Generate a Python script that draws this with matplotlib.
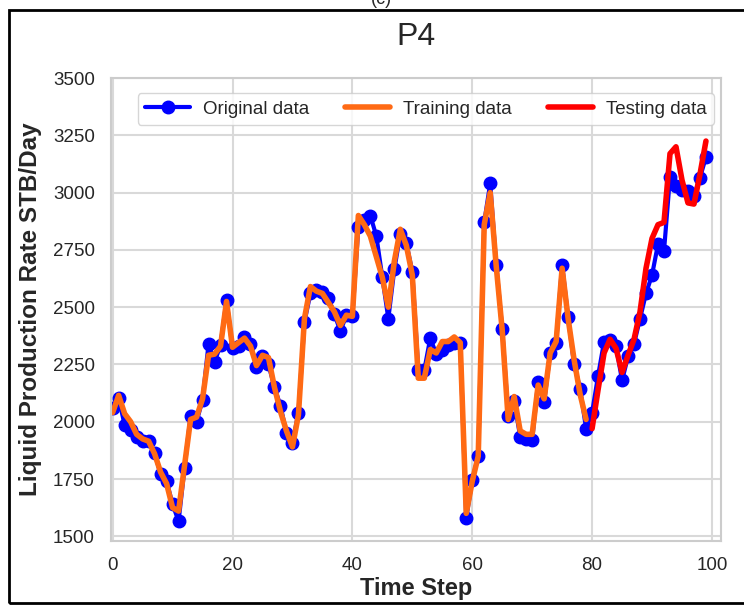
import matplotlib
matplotlib.use("Agg")
import matplotlib.pyplot as plt
import seaborn as sns
from matplotlib.patches import Rectangle

# production rate of well P4, one value per time step
original = [2060, 2105, 1985, 1965, 1935, 1915, 1915, 1865, 1770, 1740,
            1640, 1565, 1800, 2025, 2000, 2095, 2340, 2260, 2335, 2530,
            2320, 2330, 2370, 2340, 2240, 2285, 2250, 2150, 2070, 1950,
            1905, 2040, 2435, 2560, 2575, 2565, 2540, 2470, 2395, 2465,
            2460, 2850, 2880, 2900, 2810, 2630, 2450, 2665, 2820, 2780,
            2655, 2225, 2225, 2365, 2295, 2315, 2335, 2345, 2345, 1580,
            1745, 1850, 2870, 3040, 2685, 2405, 2025, 2090, 1935, 1925,
            1920, 2175, 2085, 2300, 2345, 2685, 2455, 2250, 2145, 1970,
            2040, 2200, 2350, 2355, 2330, 2180, 2285, 2340, 2450, 2560,
            2640, 2775, 2745, 3070, 3030, 3010, 3005, 2985, 3065, 3155]

# model fit on the first 80 steps
training = [2040, 2115, 2035, 2000, 1945, 1925, 1915, 1860, 1780, 1730,
            1625, 1610, 1810, 2010, 2020, 2100, 2290, 2295, 2330, 2525,
            2325, 2345, 2365, 2330, 2245, 2290, 2280, 2150, 2045, 1960,
            1890, 2030, 2450, 2590, 2570, 2560, 2520, 2480, 2420, 2465,
            2460, 2900, 2860, 2810, 2720, 2630, 2500, 2700, 2840, 2770,
            2640, 2190, 2190, 2315, 2300, 2350, 2350, 2370, 2345, 1600,
            1740, 1850, 2860, 3000, 2680, 2400, 2010, 2110, 1960, 1945,
            1945, 2160, 2100, 2300, 2350, 2670, 2450, 2270, 2120, 2010]

# forecast on the last 20 steps
testing = [1970, 2140, 2300, 2360, 2320, 2215, 2290, 2360, 2480, 2670,
           2800, 2860, 2870, 3170, 3200, 3055, 2955, 2950, 3080, 3225]

t_all = list(range(len(original)))
t_train = list(range(len(training)))
t_test = list(range(len(training), len(training) + len(testing)))

sns.set_style("whitegrid")
plt.rcParams['font.family'] = ['Liberation Sans', 'DejaVu Sans']

fig = plt.figure(figsize=(7.44, 6.05), dpi=100)
ax = fig.add_axes([0.149, 0.106, 0.820, 0.765])

ax.plot(t_all, original, color='blue', marker='o', markersize=9, lw=3,
        label='Original data')
ax.plot(t_train, training, color='#ff6a14', lw=4, label='Training data')
ax.plot(t_test, testing, color='red', lw=4, label='Testing data')

ax.set_xlim(-0.3, 101.5)
ax.set_ylim(1480, 3500)
ax.set_xticks([0, 20, 40, 60, 80, 100])
ax.set_yticks(range(1500, 3501, 250))
ax.tick_params(labelsize=13.5, colors='#262626', pad=8)
for s in ax.spines.values():
    s.set_color('#cccccc')
    s.set_linewidth(1.5)
ax.grid(color='#d9d9d9', lw=1.5)

ax.set_title('P4', fontsize=23, color='#262626', pad=24)
ax.set_xlabel('Time Step', fontsize=17, fontweight='bold', labelpad=2)
ax.set_ylabel('Liquid Production Rate STB/Day', fontsize=17.5,
              fontweight='bold', labelpad=8)

ax.legend(loc='upper right', ncol=3, fontsize=13.5, frameon=True,
          handlelength=2.4, columnspacing=1.9, borderpad=0.4,
          handletextpad=0.7, bbox_to_anchor=(1.004, 0.988))

# border around the whole panel and the cut-off panel tag
fig.patches.append(Rectangle((9 / 744, 2 / 605), 1.0, 1 - 12 / 605,
                             transform=fig.transFigure, fill=False,
                             edgecolor='black', lw=2))
fig.text(381 / 744, 1 - 4 / 605, '(c)', fontsize=13, ha='center',
         va='baseline', color='#262626')

fig.savefig('out.png', dpi=100)
